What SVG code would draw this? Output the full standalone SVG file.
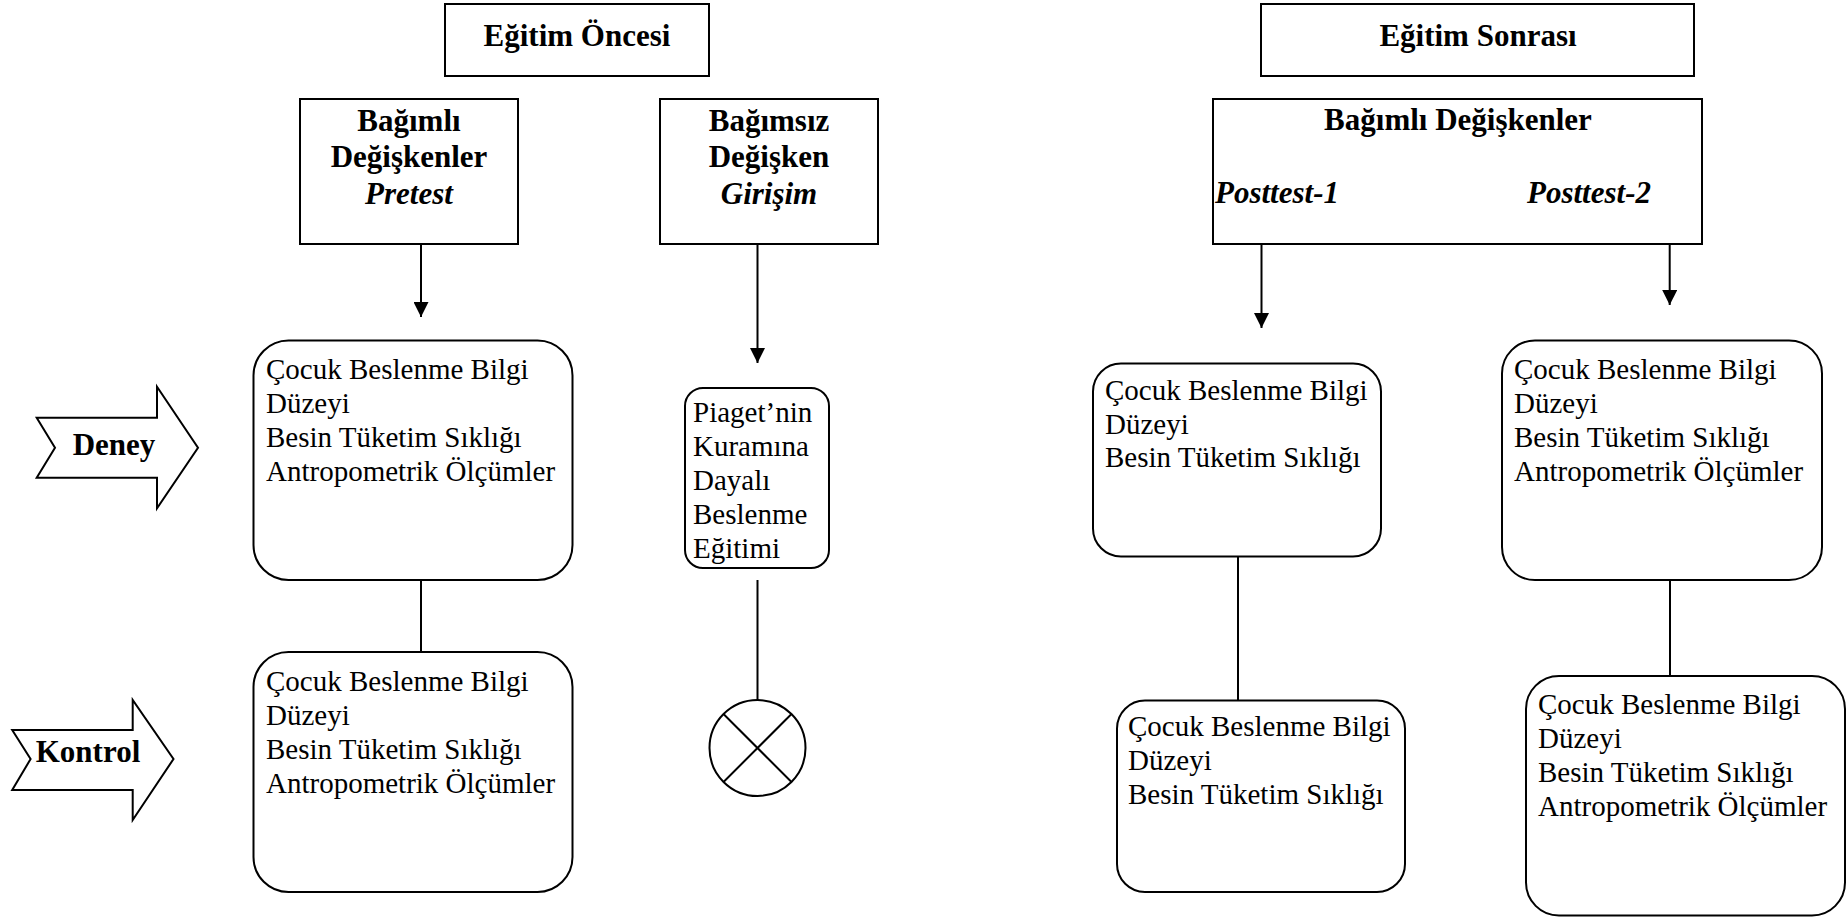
<svg xmlns="http://www.w3.org/2000/svg" width="1847" height="917" viewBox="0 0 1847 917">
<style>
.box{fill:#fff;stroke:#000;stroke-width:2}
.rbox{fill:#fff;stroke:#000;stroke-width:2}
.hd{font-family:"Liberation Serif","Times New Roman",serif;font-weight:bold;font-size:31px;fill:#000}
.hi{font-family:"Liberation Serif","Times New Roman",serif;font-weight:bold;font-style:italic;font-size:31px;fill:#000}
.tx{font-family:"Liberation Serif","Times New Roman",serif;font-size:29px;fill:#000}
.ln{stroke:#000;stroke-width:2;fill:none}
</style>
<defs>
<marker id="ah" markerUnits="userSpaceOnUse" markerWidth="15" markerHeight="15" refX="15" refY="7.5" orient="auto">
<path d="M0,0 L15,7.5 L0,15 z" fill="#000"/>
</marker>
</defs>
<rect width="1847" height="917" fill="#fff"/>

<g id="connectors">
<line class="ln" x1="421" y1="244" x2="421" y2="317" marker-end="url(#ah)"/>
<line class="ln" x1="757.5" y1="244" x2="757.5" y2="363" marker-end="url(#ah)"/>
<line class="ln" x1="1261.5" y1="244" x2="1261.5" y2="328" marker-end="url(#ah)"/>
<line class="ln" x1="1669.7" y1="244" x2="1669.7" y2="305" marker-end="url(#ah)"/>
<line class="ln" x1="421" y1="580" x2="421" y2="652"/>
<line class="ln" x1="757.5" y1="580" x2="757.5" y2="700"/>
<line class="ln" x1="1238" y1="556.5" x2="1238" y2="700.6"/>
<line class="ln" x1="1670" y1="580" x2="1670" y2="676"/>
</g>

<g id="egitim-oncesi">
<rect class="box" x="445" y="4" width="264" height="72"/>
<text class="hd" x="577" y="46" text-anchor="middle">Eğitim Öncesi</text>
</g>

<g id="egitim-sonrasi">
<rect class="box" x="1261" y="4" width="433" height="72"/>
<text class="hd" x="1478" y="46" text-anchor="middle">Eğitim Sonrası</text>
</g>

<g id="bagimli-pretest">
<rect class="box" x="300" y="99" width="218" height="145"/>
<text class="hd" x="409" y="131" text-anchor="middle">Bağımlı</text>
<text class="hd" x="409" y="167" text-anchor="middle">Değişkenler</text>
<text class="hi" x="409" y="204" text-anchor="middle">Pretest</text>
</g>

<g id="bagimsiz">
<rect class="box" x="660" y="99" width="218" height="145"/>
<text class="hd" x="769" y="131" text-anchor="middle">Bağımsız</text>
<text class="hd" x="769" y="167" text-anchor="middle">Değişken</text>
<text class="hi" x="769" y="204" text-anchor="middle">Girişim</text>
</g>

<g id="bagimli-post">
<rect class="box" x="1213" y="99" width="489" height="145"/>
<text class="hd" x="1458" y="130" text-anchor="middle">Bağımlı Değişkenler</text>
<text class="hi" x="1215" y="203">Posttest-1</text>
<text class="hi" x="1527" y="203">Posttest-2</text>
</g>

<g id="deney-arrow">
<polygon class="box" points="36.7,417.7 55,447.7 36.7,477.7 157,477.7 157,508.3 198,447.7 157,386.7 157,417.7"/>
<text class="hd" x="114" y="455" text-anchor="middle">Deney</text>
</g>

<g id="kontrol-arrow">
<polygon class="box" points="12.2,730 30.6,759 12.2,790 132.7,790 132.7,820 173.5,759 132.7,700 132.7,730"/>
<text class="hd" x="88" y="762" text-anchor="middle">Kontrol</text>
</g>

<g id="deney-pretest">
<rect class="rbox" x="253.5" y="340.5" width="319" height="239.5" rx="35" ry="35"/>
<text class="tx" x="266" y="379">Çocuk Beslenme Bilgi</text>
<text class="tx" x="266" y="413">Düzeyi</text>
<text class="tx" x="266" y="447">Besin Tüketim Sıklığı</text>
<text class="tx" x="266" y="481">Antropometrik Ölçümler</text>
</g>

<g id="kontrol-pretest">
<rect class="rbox" x="253.5" y="652" width="319" height="240" rx="35" ry="35"/>
<text class="tx" x="266" y="691">Çocuk Beslenme Bilgi</text>
<text class="tx" x="266" y="725">Düzeyi</text>
<text class="tx" x="266" y="759">Besin Tüketim Sıklığı</text>
<text class="tx" x="266" y="793">Antropometrik Ölçümler</text>
</g>

<g id="piaget">
<rect class="rbox" x="685" y="388" width="144" height="180" rx="18" ry="18"/>
<text class="tx" x="693" y="422">Piaget’nin</text>
<text class="tx" x="693" y="456">Kuramına</text>
<text class="tx" x="693" y="490">Dayalı</text>
<text class="tx" x="693" y="524">Beslenme</text>
<text class="tx" x="693" y="558">Eğitimi</text>
</g>

<g id="kontrol-girisim">
<circle class="box" cx="757.5" cy="748" r="48"/>
<line class="ln" x1="723.5" y1="714" x2="791.5" y2="782"/>
<line class="ln" x1="791.5" y1="714" x2="723.5" y2="782"/>
</g>

<g id="deney-posttest1">
<rect class="rbox" x="1093" y="363.5" width="288" height="193" rx="28" ry="28"/>
<text class="tx" x="1105" y="400">Çocuk Beslenme Bilgi</text>
<text class="tx" x="1105" y="434">Düzeyi</text>
<text class="tx" x="1105" y="467">Besin Tüketim Sıklığı</text>
</g>

<g id="kontrol-posttest1">
<rect class="rbox" x="1117" y="700.6" width="288" height="191.4" rx="28" ry="28"/>
<text class="tx" x="1128" y="736">Çocuk Beslenme Bilgi</text>
<text class="tx" x="1128" y="770">Düzeyi</text>
<text class="tx" x="1128" y="804">Besin Tüketim Sıklığı</text>
</g>

<g id="deney-posttest2">
<rect class="rbox" x="1502" y="340.5" width="320" height="239.5" rx="33" ry="33"/>
<text class="tx" x="1514" y="379">Çocuk Beslenme Bilgi</text>
<text class="tx" x="1514" y="413">Düzeyi</text>
<text class="tx" x="1514" y="447">Besin Tüketim Sıklığı</text>
<text class="tx" x="1514" y="481">Antropometrik Ölçümler</text>
</g>

<g id="kontrol-posttest2">
<rect class="rbox" x="1526" y="676" width="319" height="239.5" rx="33" ry="33"/>
<text class="tx" x="1538" y="714">Çocuk Beslenme Bilgi</text>
<text class="tx" x="1538" y="748">Düzeyi</text>
<text class="tx" x="1538" y="782">Besin Tüketim Sıklığı</text>
<text class="tx" x="1538" y="816">Antropometrik Ölçümler</text>
</g>
</svg>
